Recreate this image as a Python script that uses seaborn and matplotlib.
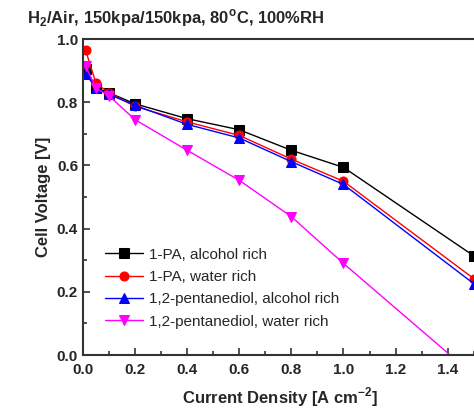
import matplotlib
matplotlib.use("Agg")
import matplotlib.pyplot as plt
import seaborn as sns
from matplotlib.ticker import MultipleLocator, FormatStrFormatter

current = [0.01, 0.05, 0.1, 0.2, 0.4, 0.6, 0.8, 1.0, 1.5]
pa_alcohol = [0.905, 0.845, 0.830, 0.795, 0.748, 0.713, 0.648, 0.594, 0.314]
pa_water = [0.965, 0.860, 0.830, 0.787, 0.738, 0.695, 0.620, 0.550, 0.242]
pd_alcohol = [0.890, 0.845, 0.825, 0.790, 0.730, 0.687, 0.612, 0.540, 0.226]
pd_water = [0.915, 0.845, 0.820, 0.745, 0.648, 0.553, 0.438, 0.290, -0.064]

labels = ["1-PA, alcohol rich", "1-PA, water rich",
          "1,2-pentanediol, alcohol rich", "1,2-pentanediol, water rich"]
series = [pa_alcohol, pa_water, pd_alcohol, pd_water]
colors = ["black", "red", "blue", "magenta"]
markers = ["s", "o", "^", "v"]

sns.set_style("ticks")
plt.rcParams["font.family"] = ["Liberation Sans", "DejaVu Sans"]
plt.rcParams["mathtext.fontset"] = "custom"
plt.rcParams["mathtext.rm"] = "Liberation Sans"
plt.rcParams["mathtext.bf"] = "Liberation Sans:bold"

fig = plt.figure(figsize=(4.74, 4.11), dpi=100)
ax = fig.add_axes([0.175, 0.136, 0.83, 0.769])

for y, lab, c, m in zip(series, labels, colors, markers):
    sns.lineplot(x=current, y=y, ax=ax, color=c, marker=m, markersize=6.5,
                 markeredgecolor=c, linewidth=1, label=lab)

ax.set_xlim(0, 1.51)
ax.set_ylim(0, 1.0)
ax.xaxis.set_major_locator(MultipleLocator(0.2))
ax.xaxis.set_minor_locator(MultipleLocator(0.1))
ax.yaxis.set_major_locator(MultipleLocator(0.2))
ax.yaxis.set_minor_locator(MultipleLocator(0.1))
ax.tick_params(which="both", direction="in", top=False, right=False, width=1.2, color="#333333")
ax.tick_params(which="major", length=5, labelsize=11)
ax.tick_params(axis="x", which="major", pad=6)
ax.tick_params(which="minor", length=3)
ax.xaxis.set_major_formatter(FormatStrFormatter("%.1f"))
ax.yaxis.set_major_formatter(FormatStrFormatter("%.1f"))
for lab in ax.get_xticklabels() + ax.get_yticklabels():
    lab.set_fontweight("bold")
for s in ["left", "bottom", "top"]:
    ax.spines[s].set_linewidth(1.5)
    ax.spines[s].set_color("#333333")
ax.spines["right"].set_visible(False)

ax.set_xlabel(r"Current Density [A cm$^\mathbf{-2}$]", fontsize=12, fontweight="bold", labelpad=6)
ax.set_ylabel("Cell Voltage [V]", fontsize=12, fontweight="bold", labelpad=4)

fig.text(0.057, 0.957, r"H$_\mathbf{2}$/Air, 150kpa/150kpa, 80$^\mathbf{o}$C, 100%RH",
         fontsize=12, fontweight="bold", va="center", ha="left")

ax.legend(loc="lower left", bbox_to_anchor=(0.02, 0.04), frameon=False, fontsize=11,
          handlelength=2.5, labelspacing=0.55, handletextpad=0.4)

fig.savefig("out.png", dpi=100)
